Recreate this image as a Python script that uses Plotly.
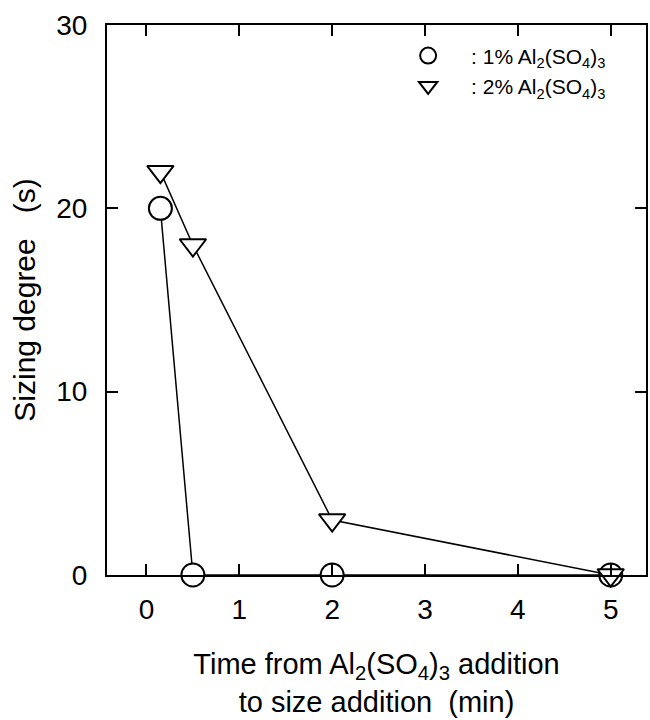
import plotly.graph_objects as go

# Data
time_1pct = [0.15, 0.5, 2, 5]
sizing_1pct = [20, 0, 0, 0]
time_2pct = [0.15, 0.5, 2, 5]
sizing_2pct = [22, 18, 3, 0]

x_ticks = [0, 1, 2, 3, 4, 5]
y_ticks = [0, 10, 20, 30]

name_1 = ": 1% Al<sub>2</sub>(SO<sub>4</sub>)<sub>3</sub>"
name_2 = ": 2% Al<sub>2</sub>(SO<sub>4</sub>)<sub>3</sub>"

FONT = "Liberation Sans, Arial, sans-serif"

fig = go.Figure()
fig.add_trace(go.Scatter(
    x=time_1pct, y=sizing_1pct, mode="lines+markers", showlegend=False,
    line=dict(color="black", width=1.5),
    marker=dict(symbol="circle", size=23, color="white", line=dict(color="black", width=2)),
    cliponaxis=False,
))
fig.add_trace(go.Scatter(
    x=time_2pct, y=sizing_2pct, mode="lines+markers", showlegend=False,
    line=dict(color="black", width=1.5),
    marker=dict(symbol="triangle-down", size=23, color="white", line=dict(color="black", width=2)),
    cliponaxis=False,
))
# legend entries (markers only, like the reference key)
fig.add_trace(go.Scatter(
    x=[None], y=[None], mode="markers", name=name_1,
    marker=dict(symbol="circle", size=23, color="white", line=dict(color="black", width=2)),
))
fig.add_trace(go.Scatter(
    x=[None], y=[None], mode="markers", name=name_2,
    marker=dict(symbol="triangle-down", size=23, color="white", line=dict(color="black", width=2)),
))

axis_common = dict(
    showline=True, linecolor="black", linewidth=2, mirror="ticks",
    ticks="inside", ticklen=11, tickwidth=2, tickcolor="black",
    showgrid=False, zeroline=False,
    tickfont=dict(family=FONT, size=28, color="black"),
)

fig.update_xaxes(
    range=[-0.425, 5.38], tickvals=x_ticks, ticktext=[str(v) for v in x_ticks],
    title=dict(text="Time from Al<sub>2</sub>(SO<sub>4</sub>)<sub>3</sub> addition<br>to size addition  (min)",
               font=dict(family=FONT, size=29, color="black"), standoff=30),
    ticklabelstandoff=8,
    **axis_common,
)
fig.update_yaxes(
    range=[0, 30], tickvals=y_ticks, ticktext=[str(v) for v in y_ticks],
    title=dict(text="Sizing degree   (s)", font=dict(family=FONT, size=30, color="black"), standoff=12),
    ticklabelstandoff=12,
    **axis_common,
)

fig.update_layout(
    width=650, height=720,
    margin=dict(l=107, r=2, t=25, b=145),
    plot_bgcolor="white", paper_bgcolor="white",
    showlegend=True,
    legend=dict(
        x=0.516, y=0.981, xanchor="left", yanchor="top",
        bgcolor="rgba(0,0,0,0)", borderwidth=0,
        font=dict(family=FONT, size=21, color="black"),
        itemwidth=76, tracegroupgap=0, itemsizing="trace",
    ),
)

fig.write_html("out.html")
